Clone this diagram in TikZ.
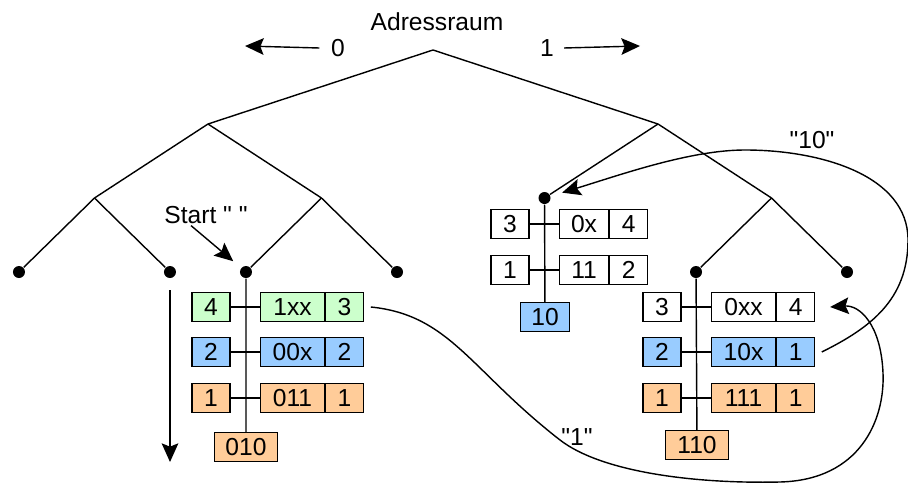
\documentclass[tikz,border=0pt]{standalone}
\usepackage{fontspec}
\setmainfont{Liberation Sans}[Ligatures=TeXOff]
\usepackage{tikz}
\usetikzlibrary{arrows,arrows.meta,positioning,calc}
\definecolor{grn}{RGB}{204,255,204}
\definecolor{blu}{RGB}{153,204,255}
\definecolor{org}{RGB}{255,204,153}
\tikzstyle{dot}=[fill=black,circle,minimum size=0.36cm,inner sep=0pt]
\tikzstyle{cell}=[draw,line width=0.9pt,minimum height=0.87cm,inner sep=0pt]
\tikzstyle{depth}=[cell,minimum width=1.14cm]
\tikzstyle{pat}=[cell,minimum width=1.92cm,anchor=west]
\tikzstyle{cnt}=[cell,minimum width=1.14cm]
\tikzstyle{key}=[cell,minimum width=1.9cm]
\tikzstyle{lbl}=[inner sep=1pt]
\tikzset{arr/.style={-{Stealth[length=0.56cm,width=0.5cm,inset=0.1cm]}}}

\begin{document}
\begin{tikzpicture}[x=0.03cm,y=-0.03cm,line width=1.2pt,font=\fontsize{21}{25}\selectfont,
  level distance=2.22cm,
  level 1/.style={sibling distance=13.5cm},
  level 2/.style={sibling distance=6.81cm},
  level 3/.style={sibling distance=4.53cm}]
\useasboundingbox (0,0) rectangle (908,484);
\node[coordinate] (root) at (433,50) {}
	child {coordinate (l)
		child {coordinate (ll)
			child {node [dot] (s1) {}}
			child {node [dot] (s2) {}}
			}
		child {coordinate (lr)
			child {node [dot] (s3) {}}
			child {node [dot] (s4) {}}
			}
		}
	child {coordinate (r)
		child {node [dot] (s5) {}}
		child {coordinate (rr)
			child {node [dot] (s6) {}}
			child {node [dot] (s7) {}}
			}
		};

\node[lbl] (adr) at (437,22) {Adressraum};
\node[lbl] (zero) at (338,48) {0};
\node[lbl] (one) at (547,48) {1};
\coordinate (zl) at (245,46);
\coordinate (or) at (640,46);
\draw[arr] ([xshift=-0.3cm]zero.west) -- (zl);
\draw[arr] ([xshift=0.25cm]one.east) -- (or);

\node[lbl] (start) at (206,215) {Start " "};
\draw[arr,shorten >=0.3cm] ([xshift=-0.45cm]start.south) -- (s3);
\coordinate (bt) at (170,290);
\coordinate (bb) at (170,462);
\draw[arr] (bt) -- (bb);

\node[depth,fill=grn] (ld1) at (211,307) {4};
\node[pat,fill=grn] (lp1) at (260,307) {1xx};
\node[cnt,fill=grn,right=0pt of lp1] (lc1) {3};
\node[depth,fill=blu] (ld2) at (211,352) {2};
\node[pat,fill=blu] (lp2) at (260,352) {00x};
\node[cnt,fill=blu,right=0pt of lp2] (lc2) {2};
\node[depth,fill=org] (ld3) at (211,398) {1};
\node[pat,fill=org] (lp3) at (260,398) {011};
\node[cnt,fill=org,right=0pt of lp3] (lc3) {1};
\node[key,fill=org] (lk) at (246,447) {010};
\draw (s3) -- (lk);
\draw (ld1) -- (lp1);
\draw (ld2) -- (lp2);
\draw (ld3) -- (lp3);

\node[depth,fill=white] (md1) at (510,224) {3};
\node[pat,fill=white,minimum width=1.47cm] (mp1) at (559,224) {0x};
\node[cnt,fill=white,right=0pt of mp1] (mc1) {4};
\node[depth,fill=white] (md2) at (510,270) {1};
\node[pat,fill=white,minimum width=1.47cm] (mp2) at (559,270) {11};
\node[cnt,fill=white,right=0pt of mp2] (mc2) {2};
\node[key,fill=blu,minimum width=1.47cm] (mk) at (545,317) {10};
\draw (s5) -- (mk);
\draw (md1) -- (mp1);
\draw (md2) -- (mp2);

\node[depth,fill=white] (rd1) at (662,307) {3};
\node[pat,fill=white] (rp1) at (711,307) {0xx};
\node[cnt,fill=white,right=0pt of rp1] (rc1) {4};
\node[depth,fill=blu] (rd2) at (662,352) {2};
\node[pat,fill=blu] (rp2) at (711,352) {10x};
\node[cnt,fill=blu,right=0pt of rp2] (rc2) {1};
\node[depth,fill=org] (rd3) at (662,398) {1};
\node[pat,fill=org] (rp3) at (711,398) {111};
\node[cnt,fill=org,right=0pt of rp3] (rc3) {1};
\node[key,fill=org] (rk) at (697,445) {110};
\draw (s6) -- (rk);
\draw (rd1) -- (rp1);
\draw (rd2) -- (rp2);
\draw (rd3) -- (rp3);

\coordinate (in1) at ([xshift=0.45cm]rc1.east);
\draw[arr] ([xshift=0.2cm]lc1.east) .. controls (450,315) and (470,370) .. (560,440)
	.. controls (600,471) and (690,484) .. (780,482)
	.. controls (860,480) and (885,420) .. (883,373)
	.. controls (881,325) and (860,305) .. (in1);
\node[lbl] (q1) at (577,437) {"1"};

\draw[arr,shorten >=0.35cm] ([xshift=0.2cm]rc2.east) .. controls (870,328) and (908,300) .. (908,240)
	.. controls (908,175) and (820,150) .. (745,150)
	.. controls (690,150) and (620,175) .. (s5);
\node[lbl] (q10) at (812,140) {"10"};
\end{tikzpicture}
\end{document}
